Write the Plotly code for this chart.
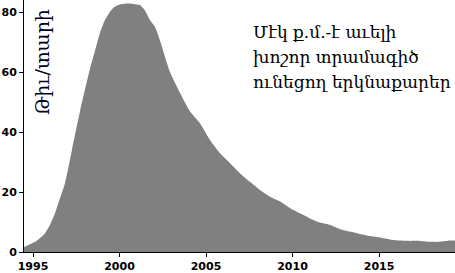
import plotly.graph_objects as go

years = [1994.48, 1994.54, 1994.83, 1995.12, 1995.40, 1995.69, 1995.98, 1996.27, 1996.56, 1996.85,
         1997.25, 1997.72, 1998.29, 1998.58, 1998.87, 1999.16, 1999.45, 1999.74, 2000.03, 2000.49,
         2000.80, 2001.18, 2001.47, 2001.76, 2002.05, 2002.34, 2002.92, 2003.50, 2004.08, 2004.65,
         2005.23, 2005.81, 2006.39, 2006.97, 2007.54, 2008.12, 2008.70, 2009.28, 2009.86, 2010.43,
         2011.01, 2011.59, 2012.17, 2012.75, 2013.32, 2013.90, 2014.48, 2015.06, 2015.64, 2016.21,
         2016.79, 2017.37, 2017.95, 2018.53, 2019.10, 2019.39]
counts = [1.5, 1.8, 2.6, 3.4, 4.6, 6.2, 9.0, 12.9, 17.9, 22.9,
          34.0, 47.0, 61.0, 67.0, 73.0, 77.3, 80.1, 81.8, 82.5, 82.8,
          82.7, 82.3, 80.5, 77.3, 75.0, 70.5, 60.0, 53.0, 46.8, 42.9,
          37.3, 32.9, 29.6, 26.2, 23.4, 20.7, 18.4, 16.8, 14.6, 12.9,
          11.2, 9.8, 9.0, 7.6, 6.8, 6.0, 5.3, 4.8, 4.2, 3.8,
          3.7, 3.7, 3.4, 3.4, 3.8, 3.8]

x_ticks = [1995, 2000, 2005, 2010, 2015]
y_ticks = [0, 20, 40, 60, 80]
y_title = "Թիւ/տարի"
label_lines = ["Մէկ ք.մ.-է աւելի", "խոշոր տրամագիծ", "ունեցող երկնաքարեր"]

fig = go.Figure()
fig.add_trace(go.Scatter(
    x=years, y=counts, mode="lines", line=dict(width=0, color="#808080", shape="spline", smoothing=0.6),
    fill="tozeroy", fillcolor="#808080", hoverinfo="skip", showlegend=False,
))

tickfont = dict(family="DejaVu Sans", size=11, color="#000000", weight="bold")
annotations = [
    dict(text=y_title, xref="paper", yref="paper", x=0.042, y=0.754, textangle=-90,
         xanchor="center", yanchor="middle",
         showarrow=False, font=dict(family="DejaVu Serif", size=19, color="#000022")),
]
line_y = [32, 57, 82]
for txt, py in zip(label_lines, line_y):
    annotations.append(dict(text=txt, xref="paper", yref="paper", x=(251 - 24) / 431,
                            y=1 - py / 252, xanchor="left", yanchor="middle", showarrow=False,
                            font=dict(family="DejaVu Serif", size=17, color="#000000")))

fig.update_layout(
    width=455, height=273,
    margin=dict(l=24, r=0, t=0, b=21),
    paper_bgcolor="white", plot_bgcolor="white",
    xaxis=dict(range=[1994.48, 2019.39], tickvals=x_ticks, ticktext=[str(v) for v in x_ticks],
               showgrid=False, zeroline=False, showline=True, linecolor="black", linewidth=1,
               ticks="outside", ticklen=4, tickcolor="black", tickfont=tickfont),
    yaxis=dict(range=[0, 84], tickvals=y_ticks, showgrid=False, zeroline=False,
               showline=True, linecolor="black", linewidth=1,
               ticks="outside", ticklen=4, tickcolor="black", tickfont=tickfont),
    annotations=annotations,
)

fig.write_html("out.html")
